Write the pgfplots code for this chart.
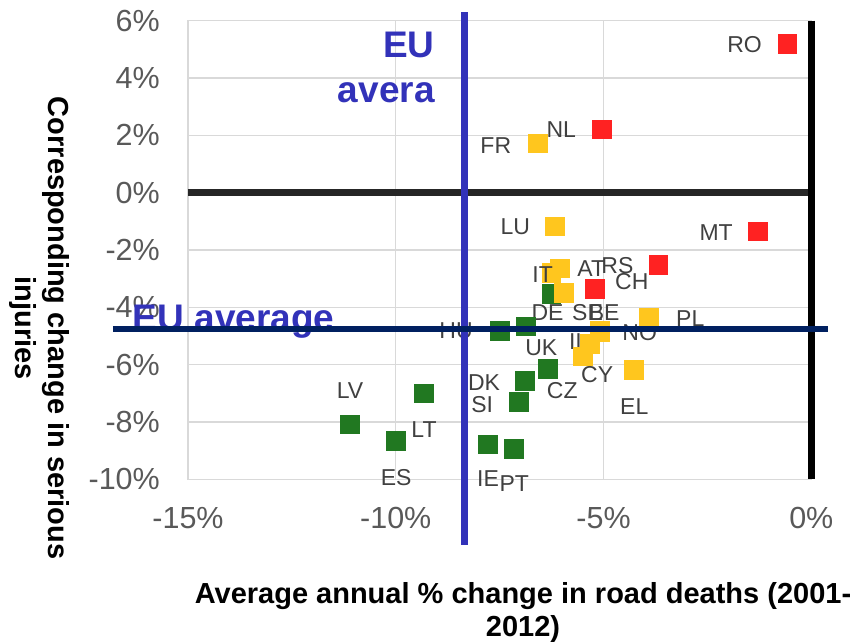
\documentclass[border=0pt]{standalone}
\usepackage{pgfplots}
\pgfplotsset{compat=1.18}
\usepackage{fontspec}
\setmainfont{Liberation Sans}
\definecolor{gridgray}{RGB}{217,217,217}
\definecolor{tickgray}{RGB}{89,89,89}
\definecolor{lblgray}{RGB}{64,64,64}
\definecolor{cgreen}{RGB}{33,120,33}
\definecolor{cyellow}{RGB}{255,198,30}
\definecolor{cred}{RGB}{255,34,34}
\definecolor{eublue}{RGB}{50,50,185}
\definecolor{navy}{RGB}{0,32,96}
\definecolor{zeroblack}{RGB}{38,38,38}
\newcommand\ticksz{\fontsize{30.5}{36}\selectfont}
\newcommand\labsz{\fontsize{29}{33}\selectfont\bfseries}
\newcommand\lblsz{\fontsize{23}{27}\selectfont}
\newcommand\eusz{\fontsize{37}{44}\selectfont\bfseries}
\pgfplotsset{
  ptlabels/.style={
    only marks, mark=square*, mark size=9.35pt, color=#1,
    mark options={fill=#1, draw=#1, line width=0pt},
    nodes near coords, point meta=explicit symbolic,
    visualization depends on={value \thisrow{dx}\as\dx},
    visualization depends on={value \thisrow{dy}\as\dy},
    every node near coord/.append style={anchor=center, xshift=\dx pt, yshift=\dy pt,
      font=\lblsz, text=lblgray, inner sep=0pt},
  }
}
\begin{document}
\begin{tikzpicture}
\begin{axis}[
  set layers=standard,
  scale only axis, width=623.3pt, height=458.7pt,
  xmin=-15, xmax=0, ymin=-10, ymax=6,
  xtick={-15,-10,-5,0}, xticklabels={-15\%,-10\%,-5\%,0\%},
  ytick={-10,-8,-6,-4,-2,0,2,4,6},
  yticklabels={-10\%,-8\%,-6\%,-4\%,-2\%,0\%,2\%,4\%,6\%},
  grid=major, grid style={draw=gridgray, line width=1.3pt},
  axis line style={draw=gridgray, line width=1.3pt},
  major tick length=0pt,
  tick label style={font=\ticksz, text=tickgray, inner sep=0pt},
  xticklabel style={anchor=north, yshift=-28pt},
  yticklabel style={anchor=east, xshift=-28pt},
  xlabel={Average annual \% change in road deaths (2001-\\2012)},
  xlabel style={at={(rel axis cs:0.5375,-0.224)}, anchor=north, align=center, font=\labsz, inner sep=0pt},
  ylabel={Corresponding change in serious\\injuries},
  ylabel style={at={(rel axis cs:-0.239,0.33)}, anchor=center, align=center, font=\labsz, inner sep=0pt, rotate=-180},
  clip=false,
]
% green
\addplot[ptlabels=cgreen] table[x=x,y=y,meta=lab] {
x y dx dy lab
-6.25 -3.54 -4 -18 DE
-7.49 -4.83 -44 0 HU
-6.86 -4.67 15 -21 UK
-6.33 -6.16 14 -21 CZ
-6.89 -6.57 -41 -2 DK
-7.03 -7.31 -37 -2 SI
-9.32 -7.00 0 -36 LT
-11.10 -8.08 0 34 LV
-9.99 -8.67 0 -36 ES
-7.78 -8.78 0 -34 IE
-7.15 -8.95 0 -34 PT
};
% yellow
\addplot[ptlabels=cyellow] table[x=x,y=y,meta=lab] {
x y dx dy lab
-6.57 1.72 -42.5 -1.7 FR
-6.16 -1.18 -40 0 LU
-6.04 -2.64 31 0 AT
-6.25 -2.81 -9 -1.7 IT
-5.95 -3.50 23.5 -20 SE
-5.08 -4.82 4 18 BE
-5.08 -4.88 39.5 0 NO
-3.90 -4.38 41 0 PL
-5.32 -5.28 -11.5 2 IL
-5.49 -5.71 14 -18.5 CY
-4.26 -6.19 0 -36 EL
};
% red
\addplot[ptlabels=cred] table[x=x,y=y,meta=lab] {
x y dx dy lab
-0.57 5.18 -43 0 RO
-5.03 2.21 -41 -0.7 NL
-1.28 -1.35 -42 -0.7 MT
-3.68 -2.53 -41 -0.7 RS
-5.21 -3.36 37 7 CH
};
% EU average texts
\node[anchor=base east, font=\eusz, text=eublue, inner sep=0pt] at (axis cs:-9.06,4.73) {EU};
\node[anchor=base east, font=\eusz, text=eublue, inner sep=0pt] at (axis cs:-9.06,3.13) {avera};
\node[anchor=base west, font=\eusz, text=eublue, inner sep=0pt] at (axis cs:-16.33,-4.82) {EU average};
% reference lines
\addplot[on layer=axis foreground, draw=zeroblack, line width=6.5pt, no marks] coordinates {(-15,0) (0.09,0)};
\addplot[on layer=axis foreground, draw=black, line width=6.5pt, no marks] coordinates {(0,6) (0,-10)};
\addplot[on layer=axis foreground, draw=eublue, line width=6.5pt, no marks] coordinates {(-8.34,6.30) (-8.34,-12.29)};
\addplot[on layer=axis foreground, draw=navy, line width=6.5pt, no marks] coordinates {(-16.81,-4.75) (0.40,-4.75)};
\end{axis}
\pgfresetboundingbox
\path (-188pt,-161.6pt) rectangle (672pt,479.4pt);
\end{tikzpicture}
\end{document}
